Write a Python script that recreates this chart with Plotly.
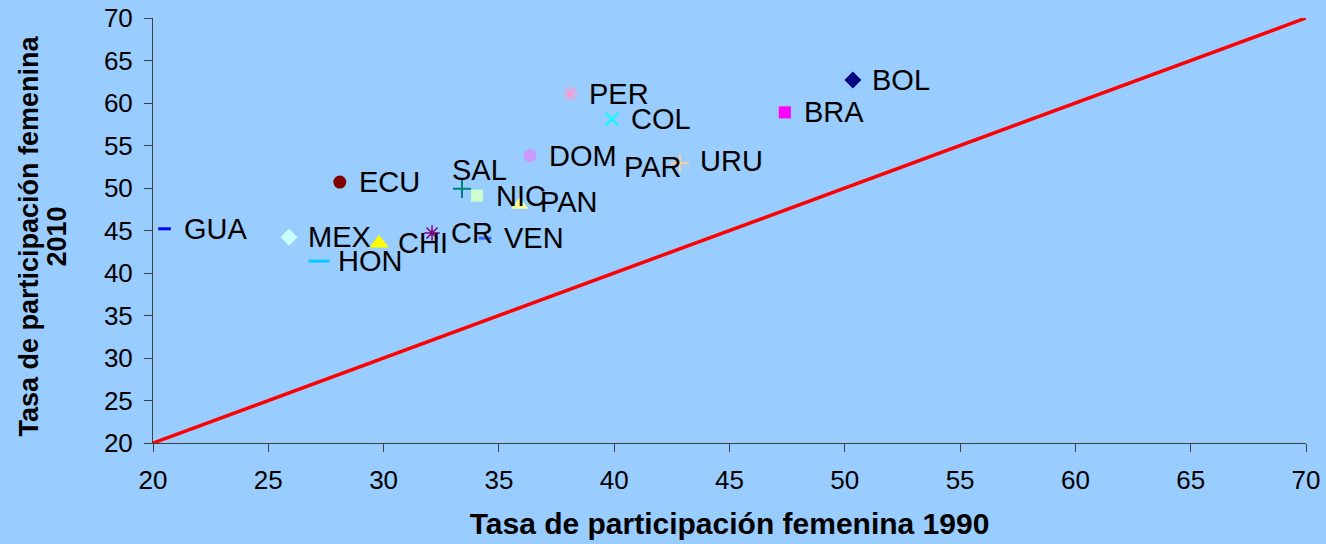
import plotly.graph_objects as go

countries = ["GUA", "MEX", "HON", "CHI", "ECU", "CR", "VEN", "SAL", "NIC", "PAN",
             "DOM", "PER", "COL", "PAR", "URU", "BRA", "BOL"]
rate_1990 = [20.5, 25.9, 27.2, 29.8, 28.1, 32.1, 34.4, 33.4, 34.05, 35.9,
             36.35, 38.1, 39.9, 42.85, 42.85, 47.4, 50.35]
rate_2010 = [45.2, 44.2, 41.4, 43.5, 50.7, 44.7, 44.1, 49.9, 49.1, 48.0,
             53.8, 61.1, 58.1, 52.9, 52.9, 58.9, 62.7]
diag = [20, 70]
tick_vals = [20, 25, 30, 35, 40, 45, 50, 55, 60, 65, 70]
x_title = "Tasa de participación femenina 1990"
y_title_lines = ["Tasa de participación femenina", "2010"]

# marker style per country: (symbol, color, size, line width)
styles = {
    "GUA": ("line-ew-open", "#0000FF", 9, 3),
    "MEX": ("diamond", "#CCFFFF", 13, 0),
    "HON": ("line-ew-open", "#00CCFF", 15, 3),
    "CHI": ("triangle-up", "#FFFF00", 17, 0),
    "ECU": ("circle", "#800000", 13, 0),
    "CR": ("asterisk-open", "#800080", 13, 1.5),
    "VEN": ("line-ew-open", "#3366FF", 9, 3),
    "SAL": ("cross-thin-open", "#008080", 13, 2),
    "NIC": ("square", "#CCFFCC", 12, 0),
    "PAN": ("triangle-up", "#FFFF99", 15, 0),
    "DOM": ("circle", "#CC99FF", 13, 0),
    "PER": ("asterisk-open", "#FF99CC", 13, 1.5),
    "COL": ("x-thin-open", "#00FFFF", 13, 2),
    "PAR": ("circle", "rgba(0,0,0,0)", 1, 0),
    "URU": ("cross-thin-open", "#FFCC99", 13, 2),
    "BRA": ("square", "#FF00FF", 12, 0),
    "BOL": ("diamond", "#000080", 13, 0),
}
# label offsets in pixels (dx from marker to text edge, dy upward)
label_off = {
    "SAL": (-12, 19, "left"),
    "PAR": (3, -4, "right"),
    "PAN": (18, 3, "left"),
    "URU": (18, 2, "left"),
}

FONT = "Arial, Liberation Sans, sans-serif"

fig = go.Figure()
fig.add_trace(go.Scatter(x=diag, y=diag, mode="lines",
                         line=dict(color="#FF0000", width=3.5),
                         showlegend=False, hoverinfo="skip", cliponaxis=False))

for c, xv, yv in zip(countries, rate_1990, rate_2010):
    sym, col, sz, lw = styles[c]
    mk = dict(symbol=sym, color=col, size=sz)
    if "open" in sym:
        mk["line"] = dict(color=col, width=lw)
    else:
        mk["line"] = dict(width=0)
    fig.add_trace(go.Scatter(x=[xv], y=[yv], mode="markers", marker=mk,
                             name=c, showlegend=False))
    dx, dy, anc = label_off.get(c, (17, 0, "left"))
    fig.add_annotation(x=xv, y=yv, text=c, showarrow=False,
                       xanchor=anc, yanchor="middle", xshift=dx, yshift=dy,
                       font=dict(family=FONT, size=29, color="#000000"))

# y-axis title, two rotated lines
for i, (line, px) in enumerate(zip(y_title_lines, [-125, -97])):
    fig.add_annotation(xref="paper", yref="paper", x=0, y=0.5, xshift=px, yshift=-6,
                       text="<b>" + line + "</b>", textangle=-90, showarrow=False,
                       xanchor="center", yanchor="middle",
                       font=dict(family=FONT, size=27, color="#000000"))

axis_common = dict(
    range=[20, 70], tickvals=tick_vals, showgrid=False, zeroline=False,
    showline=True, linecolor="#404040", linewidth=1, automargin=False,
    ticks="outside", ticklen=8, tickcolor="#404040",
    tickfont=dict(family=FONT, size=26, color="#000000"),
)

fig.update_layout(
    width=1326, height=544,
    paper_bgcolor="#99CCFF", plot_bgcolor="#99CCFF",
    margin=dict(l=153, r=20, t=18, b=101),
    xaxis=dict(**axis_common, ticklabelstandoff=6,
               title=dict(text="<b>" + x_title + "</b>",
                          font=dict(family=FONT, size=30, color="#000000"),
                          standoff=18)),
    yaxis=dict(**axis_common, ticklabelstandoff=6),
)

fig.write_html("out.html", config={"displayModeBar": False},
               post_script="document.body.style.margin='0';document.body.style.overflow='hidden';document.body.style.background='#99CCFF';")
